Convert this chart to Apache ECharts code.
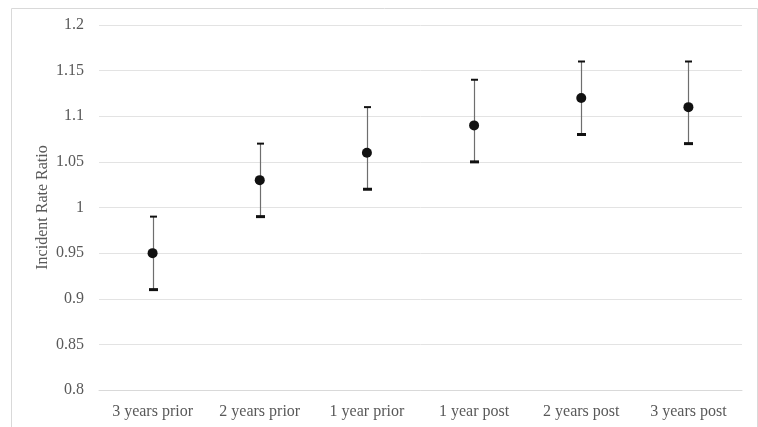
<!DOCTYPE html>
<html><head><meta charset="utf-8">
<script src="https://cdn.jsdelivr.net/npm/echarts@6/dist/echarts.min.js"></script>
<style>html,body{margin:0;padding:0;background:#fff}#c{width:758px;height:427px}</style>
</head><body><div id="c"></div>
<script>
const categories = ['3 years prior','2 years prior','1 year prior','1 year post','2 years post','3 years post'];
const estimates = [0.95, 1.03, 1.06, 1.09, 1.12, 1.11];
const lowerCI = [0.91, 0.99, 1.02, 1.05, 1.08, 1.07];
const upperCI = [0.99, 1.07, 1.11, 1.14, 1.16, 1.16];
const yTicks = {min: 0.8, max: 1.2, interval: 0.05};

const chart = echarts.init(document.getElementById('c'));
const font = '"Liberation Serif", "Times New Roman", serif';
const errData = categories.map((c, i) => [i, lowerCI[i], upperCI[i]]);
chart.setOption({
  animation: false,
  textStyle: {fontFamily: font},
  graphic: [{type: 'rect', shape: {x: 11.5, y: 8.5, width: 746, height: 430}, style: {fill: 'none', stroke: '#d9d9d9', lineWidth: 1}, silent: true}],
  grid: {left: 99, right: 16, top: 25, bottom: 37},
  xAxis: {
    type: 'category', data: categories, boundaryGap: true,
    axisLine: {show: true, lineStyle: {color: '#d9d9d9', width: 1}},
    axisTick: {show: false},
    axisLabel: {color: '#595959', fontSize: 16, fontFamily: font, margin: 14}
  },
  yAxis: {
    type: 'value', min: yTicks.min, max: yTicks.max, interval: yTicks.interval,
    name: 'Incident Rate Ratio', nameLocation: 'middle', nameGap: 48, nameMoveOverlap: false,
    nameTextStyle: {color: '#595959', fontSize: 16, fontFamily: font},
    axisLine: {show: false}, axisTick: {show: false},
    splitLine: {lineStyle: {color: '#e3e3e3', width: 1}},
    axisLabel: {color: '#595959', fontSize: 16, fontFamily: font, margin: 15,
      formatter: v => String(parseFloat(v.toFixed(2)))}
  },
  series: [
    {
      type: 'custom', data: errData, z: 2,
      renderItem: (params, api) => {
        const x = api.value(0);
        const lo = api.coord([x, api.value(1)]);
        const hi = api.coord([x, api.value(2)]);
        const cx = Math.round(lo[0]) + 0.5;
        return {type: 'group', children: [
          {type: 'line', shape: {x1: cx, y1: hi[1], x2: cx, y2: lo[1]}, style: {stroke: '#6e6e6e', lineWidth: 1.2}},
          {type: 'rect', shape: {x: cx - 3.5, y: hi[1] - 1, width: 7, height: 2}, style: {fill: '#111'}},
          {type: 'rect', shape: {x: cx - 4.5, y: lo[1] - 1.5, width: 9, height: 3}, style: {fill: '#111'}}
        ]};
      }
    },
    {
      type: 'scatter', data: estimates, symbol: 'circle', symbolSize: 10, z: 3,
      itemStyle: {color: '#111', opacity: 1}
    }
  ]
});
</script></body></html>
